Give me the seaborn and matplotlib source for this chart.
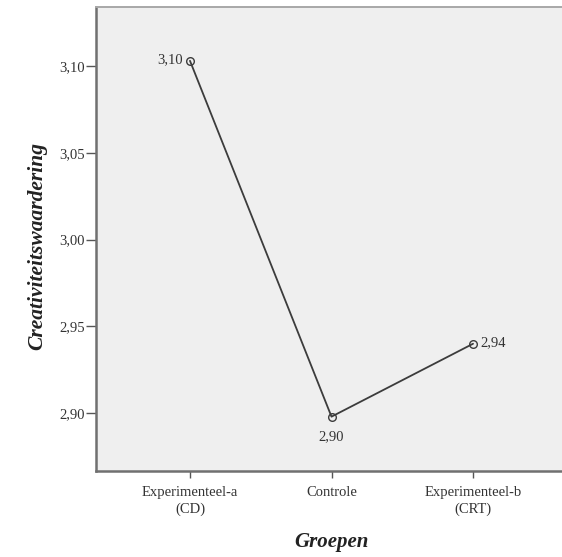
import numpy as np
import pandas as pd
import matplotlib
matplotlib.use("Agg")
import matplotlib.pyplot as plt
import seaborn as sns

groepen = ["Experimenteel-a\n(CD)", "Controle", "Experimenteel-b\n(CRT)"]
scores = [3.103, 2.898, 2.940]
labels = ["3,10", "2,90", "2,94"]
y_ticks = [2.90, 2.95, 3.00, 3.05, 3.10]

sns.set_style("white")
plt.rcParams['font.family'] = ['Liberation Serif', 'DejaVu Serif']

df = pd.DataFrame({'Groep': groepen, 'Score': scores})

fig = plt.figure(figsize=(5.62, 5.57), dpi=100)
ax = fig.add_axes([96 / 562, 86 / 557, 471 / 562, 464 / 557])
ax.set_facecolor('#efefef')

sns.lineplot(data=df, x='Groep', y='Score', sort=False, ax=ax, color='#3c3c3c',
             linewidth=1.3, marker='o', markersize=5.5, markerfacecolor='none',
             markeredgecolor='#3c3c3c', markeredgewidth=1.0)

ax.set_xlim(-0.664, 2.664)
ax.set_ylim(2.8667, 3.134)
ax.set_yticks(y_ticks)
ax.set_yticklabels([f"{v:.2f}".replace('.', ',') for v in y_ticks])

# value labels
ax.annotate(labels[0], (0, scores[0]), xytext=(-5, 1), textcoords='offset points',
            ha='right', va='center', fontsize=10.5, color='#333333')
ax.annotate(labels[1], (1, scores[1]), xytext=(0, -10), textcoords='offset points',
            ha='center', va='top', fontsize=10.5, color='#333333')
ax.annotate(labels[2], (2, scores[2]), xytext=(5, 1), textcoords='offset points',
            ha='left', va='center', fontsize=10.5, color='#333333')

for s in ['left', 'bottom']:
    ax.spines[s].set_color('#707070')
    ax.spines[s].set_linewidth(1.8)
ax.spines['top'].set_color('#a8a8a8')
ax.spines['top'].set_linewidth(1.4)
ax.spines['right'].set_visible(False)

ax.tick_params(axis='y', direction='out', length=7, width=1, color='#555555',
               labelsize=10.5, labelcolor='#333333', left=True, pad=1)
ax.tick_params(axis='x', direction='out', length=5, width=1, color='#555555',
               labelsize=10.5, labelcolor='#333333', bottom=True, pad=6)
for t in ax.get_xticklabels():
    t.set_linespacing(1.35)

ax.set_xlabel('Groepen', fontsize=15, fontweight='bold', fontstyle='italic',
              color='#222222', labelpad=11)
ax.set_ylabel('Creativiteitswaardering', fontsize=15.5, fontweight='bold',
              fontstyle='italic', color='#222222')
ax.yaxis.set_label_coords(-0.104, 0.485)

fig.savefig('out.png', dpi=100, facecolor='white')
